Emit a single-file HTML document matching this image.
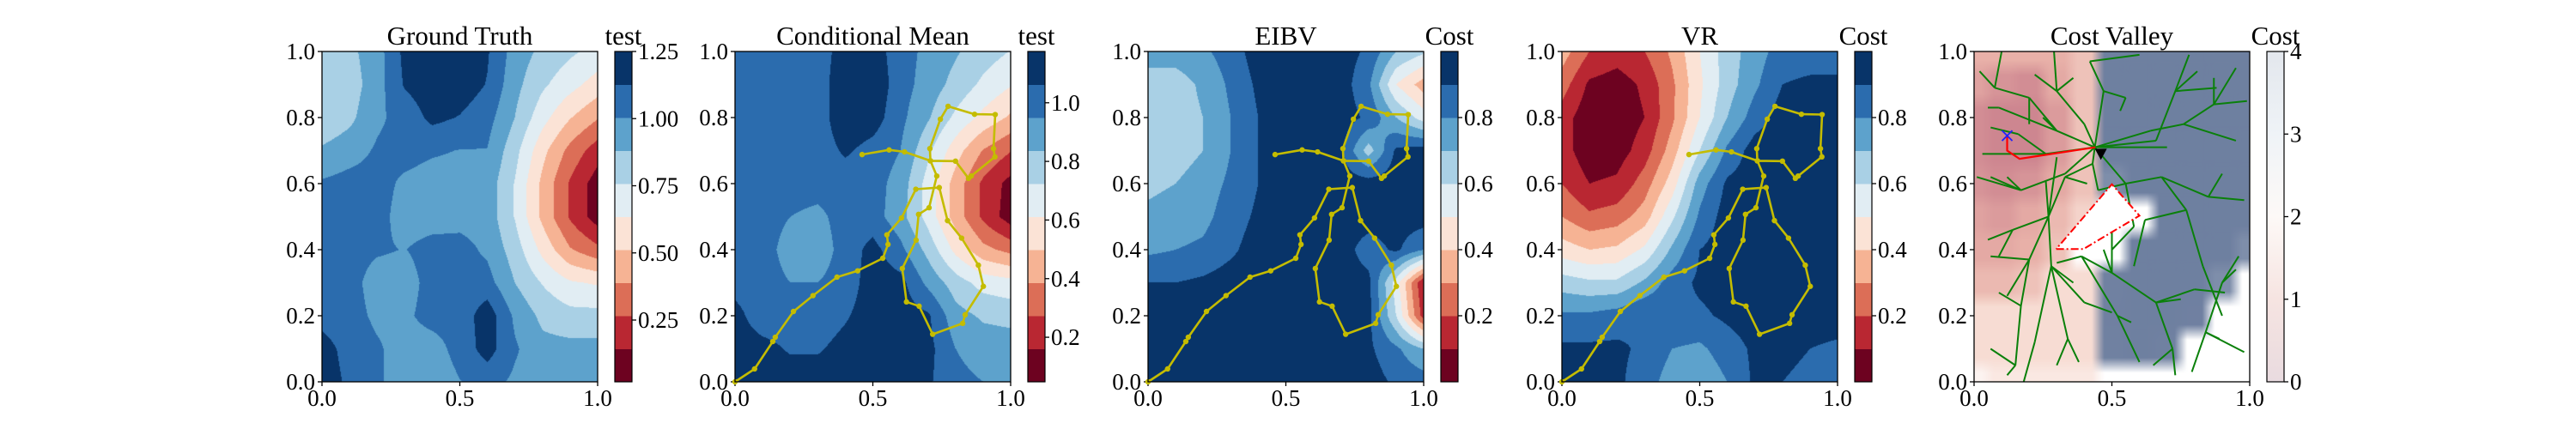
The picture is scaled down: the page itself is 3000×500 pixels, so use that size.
<!DOCTYPE html>
<html><head><meta charset="utf-8"><title>Fields</title>
<style>
html,body{margin:0;padding:0;background:#fff;width:3000px;height:500px;overflow:hidden}
#root{position:relative;width:3000px;height:500px}
canvas{position:absolute}
svg{position:absolute;left:0;top:0}
text{font-family:"Liberation Serif",serif;fill:#000}
</style></head>
<body>
<div id="root">
<canvas id="c0" width="321" height="385" style="left:375px;top:60px"></canvas>
<canvas id="c1" width="321" height="385" style="left:856px;top:60px"></canvas>
<canvas id="c2" width="321" height="385" style="left:1337px;top:60px"></canvas>
<canvas id="c3" width="321" height="385" style="left:1819px;top:60px"></canvas>
<canvas id="c4" width="321" height="385" style="left:2299px;top:60px"></canvas>
<svg id="ov" width="3000" height="500"></svg>
</div>
<script>
// ---- data ----
const gtField=[
[.80,.85,.95,1.16,1.20,1.20,1.14,.95,.85,.78,.72],
[.78,.82,.95,1.14,1.20,1.20,1.12,.92,.78,.68,.58],
[.78,.85,.98,1.05,1.16,1.12,1.05,.88,.68,.52,.40],
[.90,.95,1.02,1.05,1.02,1.00,1.00,.80,.55,.35,.20],
[1.02,1.05,1.05,.98,.95,.95,.95,.75,.48,.25,.08],
[1.05,1.05,1.05,.95,.95,.96,.95,.75,.48,.25,.08],
[1.05,1.05,1.02,1.00,1.05,1.05,.98,.82,.60,.40,.30],
[1.05,1.05,.95,.95,1.05,1.05,1.05,.88,.75,.65,.62],
[1.08,1.05,.98,.98,1.05,1.05,1.20,.98,.85,.80,.80],
[1.18,1.08,1.02,.95,.95,1.05,1.18,1.02,.92,.92,.92],
[1.20,1.10,1.02,.95,.92,1.0,1.05,.98,.95,.95,.95]];
const cmField=[
[1.0,1.0,1.0,1.0,1.12,1.12,1.0,.92,.85,.78,.72],
[1.0,1.0,1.0,1.0,1.15,1.15,1.0,.90,.80,.70,.62],
[1.0,1.0,1.0,1.0,1.15,1.12,.98,.85,.70,.58,.48],
[1.0,1.0,1.0,1.0,1.08,1.02,.95,.75,.55,.38,.28],
[1.0,1.0,1.0,1.0,1.0,1.0,.90,.68,.45,.25,.12],
[1.0,1.0,.95,.92,1.0,1.0,.88,.68,.45,.25,.10],
[1.0,1.0,.90,.88,1.0,1.10,.98,.80,.58,.42,.35],
[1.02,1.0,.95,.95,1.0,1.12,1.10,.92,.78,.68,.65],
[1.10,1.0,1.0,1.0,1.05,1.12,1.12,1.08,.88,.82,.80],
[1.12,1.10,1.05,1.05,1.10,1.12,1.12,1.10,.95,.90,.90],
[1.12,1.12,1.12,1.12,1.12,1.12,1.12,1.08,.98,.95,.95]];
const eibvField=[
[.75,.75,.78,.85,.95,.95,.95,.95,.88,.70,.62],
[.65,.65,.72,.82,.92,.95,.95,.95,.82,.50,.35],
[.65,.65,.70,.80,.90,.95,.95,.95,.88,.70,.55],
[.65,.65,.70,.80,.90,.95,.95,.92,.65,.92,.95],
[.68,.70,.75,.82,.90,.95,.95,.95,.95,.95,.95],
[.72,.74,.77,.85,.92,.95,.95,.95,.95,.95,.95],
[.78,.80,.82,.88,.95,.95,.95,.95,.85,.92,.80],
[.90,.90,.92,.95,.95,.95,.95,.95,.93,.55,.10],
[.95,.95,.95,.95,.95,.95,.95,.95,.93,.60,.15],
[.95,.95,.95,.95,.95,.95,.95,.95,.92,.82,.70],
[.95,.95,.95,.95,.95,.95,.95,.95,.95,.88,.85]];
const vrField=[
[.35,.20,.15,.20,.32,.50,.65,.75,.85,.85,.85],
[.25,.08,.05,.12,.28,.48,.65,.78,.90,.92,.92],
[.15,.03,.03,.10,.28,.50,.70,.85,.95,.95,.95],
[.15,.03,.05,.15,.35,.60,.82,.95,.95,.95,.95],
[.20,.10,.12,.25,.45,.75,.92,.95,.95,.95,.95],
[.30,.22,.25,.35,.58,.82,.95,.95,.95,.95,.95],
[.45,.40,.42,.52,.72,.90,.95,.95,.95,.95,.95],
[.65,.62,.62,.72,.85,.92,.95,.95,.95,.95,.95],
[.82,.82,.85,.90,.88,.88,.92,.95,.95,.95,.95],
[.92,.92,.92,.88,.80,.78,.85,.92,.95,.90,.88],
[.95,.95,.92,.85,.75,.72,.80,.92,.90,.85,.85]];
const cvField=[
[1.2,1.2,1.2,1.2,1.4,3.8,3.8,3.8,3.8,3.8,3.8],
[1.0,.8,.7,1.1,1.4,3.8,3.8,3.8,3.8,3.8,3.8],
[.7,.6,.6,.9,1.4,3.8,3.8,3.8,3.8,3.8,3.8],
[.7,.6,.6,.9,1.4,3.8,3.8,3.8,3.8,3.8,3.8],
[.8,.7,.8,1.1,1.4,3.0,3.8,3.8,3.8,3.8,3.8],
[1.0,.9,1.1,1.3,1.6,2.0,2.2,3.8,3.8,3.8,3.8],
[1.1,1.1,1.2,1.4,2.0,2.2,3.8,3.8,3.8,3.8,3.0],
[1.3,1.3,1.4,1.7,1.7,3.2,3.8,3.8,3.8,3.0,2.0],
[1.7,1.7,1.7,1.7,1.7,3.4,3.8,3.8,3.4,2.0,2.0],
[1.7,1.7,1.7,1.7,1.7,3.2,3.8,3.2,2.0,2.0,2.0],
[1.9,1.8,1.8,1.8,1.8,2.0,2.0,2.0,2.0,2.0,2.0]];
const panelTitles=["Ground Truth","Conditional Mean","EIBV","VR","Cost Valley"];
const cbLabels=["test","test","Cost","Cost","Cost"];
const cbRanges=[[0.02,1.25],[0.048,1.175],[0,1],[0,1],[0,4]];
const cbTicks=[[0.25,0.5,0.75,1.0,1.25],[0.2,0.4,0.6,0.8,1.0],[0.2,0.4,0.6,0.8],[0.2,0.4,0.6,0.8],[0,1,2,3,4]];
const cbTickLabels=[["0.25","0.50","0.75","1.00","1.25"],["0.2","0.4","0.6","0.8","1.0"],["0.2","0.4","0.6","0.8"],["0.2","0.4","0.6","0.8"],["0","1","2","3","4"]];
const xTicks=[0,0.5,1];
const xTickLabels=["0.0","0.5","1.0"];
const yTicks=[0,0.2,0.4,0.6,0.8,1];
const yTickLabels=["0.0","0.2","0.4","0.6","0.8","1.0"];
const pathX=[0,.071,.137,.146,.212,.283,.370,.445,.536,.555,.551,.604,.656,.741,.771,.822,.883,.901,.835,.826,.717,.668,.622,.607,.657,.666,.704,.732,.709,.707,.745,.773,.869,.944,.938,.943,.857,.847,.800,.709,.615,.559,.461];
const pathY=[0,.039,.122,.135,.213,.261,.317,.336,.374,.416,.445,.496,.583,.588,.488,.435,.353,.289,.203,.177,.144,.229,.242,.343,.429,.507,.527,.623,.669,.706,.795,.834,.810,.809,.706,.681,.623,.616,.668,.669,.696,.702,.688];
const treeEdges=[
[.438,.71,.40,.78],[.40,.78,.30,.88],[.30,.88,.29,1.0],[.30,.88,.22,.93],[.30,.88,.36,.92],
[.438,.71,.30,.76],[.30,.76,.20,.86],[.20,.86,.075,.89],[.075,.89,.10,1.0],[.075,.89,.02,.94],[.20,.86,.20,.78],
[.30,.76,.09,.83],[.09,.83,.05,.83],[.30,.76,.25,.80],
[.438,.71,.26,.69],[.26,.69,.03,.69],[.26,.69,.16,.75],[.16,.75,.06,.77],
[.438,.71,.33,.63],[.33,.63,.17,.58],[.17,.58,.01,.62],[.17,.58,.12,.62],[.17,.58,.06,.62],
[.438,.71,.43,.66],[.43,.66,.33,.62],[.33,.62,.27,.50],[.27,.50,.20,.37],[.20,.37,.06,.38],[.20,.37,.12,.26],[.27,.50,.14,.46],[.14,.46,.05,.43],[.14,.46,.09,.38],
[.27,.50,.30,.68],[.27,.50,.26,.61],[.33,.62,.41,.60],
[.43,.66,.45,.58],[.45,.58,.55,.60],
[.20,.37,.17,.23],[.17,.23,.15,.05],[.15,.05,.12,.02],[.17,.23,.09,.27],[.15,.05,.06,.10],
[.28,.35,.34,.13],[.34,.13,.30,.05],[.34,.13,.38,.06],[.28,.35,.22,.12],[.22,.12,.18,.0],[.28,.35,.40,.24],[.40,.24,.50,.21],[.28,.35,.36,.30],[.27,.50,.28,.35],
[.39,.38,.52,.20],[.52,.20,.60,.06],[.52,.20,.57,.18],[.39,.38,.50,.33],[.39,.38,.30,.36],
[.50,.33,.66,.24],[.66,.24,.72,.10],[.72,.10,.73,.02],[.72,.10,.65,.05],[.66,.24,.80,.28],[.80,.28,.91,.27],[.66,.24,.75,.25],
[.84,.15,.90,.30],[.90,.30,.95,.34],[.84,.15,.79,.03],[.84,.15,.98,.09],[.84,.15,.89,.13],[.90,.30,.96,.38],
[.50,.33,.50,.47],[.50,.33,.47,.40],
[.438,.71,.70,.71],[.438,.71,.66,.73],[.66,.73,.73,.88],[.73,.88,.78,.99],[.73,.88,.88,.89],[.73,.88,.81,.94],
[.438,.71,.47,.88],[.47,.88,.42,.97],[.42,.97,.60,.99],[.47,.88,.55,.86],[.55,.86,.53,.82],
[.438,.71,.55,.60],[.55,.60,.68,.62],[.68,.62,.77,.52],[.77,.52,.83,.35],[.83,.35,.90,.20],
[.68,.62,.85,.56],[.85,.56,.98,.55],[.85,.56,.90,.63],[.77,.52,.62,.49],[.62,.49,.58,.35],
[.438,.71,.64,.76],[.64,.76,.76,.78],[.76,.78,.87,.84],[.76,.78,.95,.73],[.87,.84,.99,.85],[.87,.84,.95,.95],[.87,.84,.87,.92],
[.55,.60,.58,.47],[.58,.47,.50,.40]];
const redPathX=[.12,.12,.165,.44];
const redPathY=[.745,.70,.675,.71];
const obstacleX=[.298,.397,.60,.50,.298];
const obstacleY=[.402,.402,.503,.598,.402];
const startPt=[.12,.745];
const goalPt=[.46,.69];

// ---- layout ----
const panelX=[375,856,1337,1819,2299];
const TOP=60,W=321,H=385,CBOFF=341,CBW=20;
const rdbu=['#6d0220','#b92732','#dc6e57','#f6b394','#fbe3d6','#e1edf3','#a9d0e5','#5da2cc','#2b6cae','#083469'];
const NS='http://www.w3.org/2000/svg';
const ov=document.getElementById('ov');
function mk(tag,attrs,parent){const e=document.createElementNS(NS,tag);for(const k in attrs)e.setAttribute(k,attrs[k]);(parent||ov).appendChild(e);return e;}
function sx(p,v){return panelX[p]+v*W;}
function sy(v){return TOP+(1-v)*H;}
function cell(x,y){
  const gx=Math.min(Math.max(x*10,0),10),gy=Math.min(Math.max((1-y)*10,0),10);
  const i=Math.min(Math.floor(gx),9),j=Math.min(Math.floor(gy),9);
  return [i,j,gx-i,gy-j];
}
function bil(f,x,y){
  const [i,j,tx,ty]=cell(x,y);
  return f[j][i]*(1-tx)*(1-ty)+f[j][i+1]*tx*(1-ty)+f[j+1][i]*(1-tx)*ty+f[j+1][i+1]*tx*ty;
}
function hex(c){return [parseInt(c.substr(1,2),16),parseInt(c.substr(3,2),16),parseInt(c.substr(5,2),16)];}
const cvStops=[[0.5,'#c97f8c'],[1.2,'#e8b0a8'],[1.7,'#f7dcd3'],[2.0,'#ffffff'],[2.35,'#ffffff'],[2.8,'#8c9ab3'],[3.2,'#7081a1'],[4,'#6e7fa0']];
function cvColor(v){
  if(v<=cvStops[0][0])return hex(cvStops[0][1]);
  for(let k=1;k<cvStops.length;k++){if(v<=cvStops[k][0]){const a=hex(cvStops[k-1][1]),b=hex(cvStops[k][1]);const t=(v-cvStops[k-1][0])/(cvStops[k][0]-cvStops[k-1][0]);return [0,1,2].map(q=>a[q]+(b[q]-a[q])*t);}}
  return hex(cvStops[cvStops.length-1][1]);
}
function cvPixel(f,x,y){
  const [i,j,tx,ty]=cell(x,y);
  const s=t=>Math.min(1,Math.max(0,(t-0.5)*2.2+0.5));
  const a=s(tx),b=s(ty);
  const c00=cvColor(f[j][i]),c10=cvColor(f[j][i+1]),c01=cvColor(f[j+1][i]),c11=cvColor(f[j+1][i+1]);
  return [0,1,2].map(q=>c00[q]*(1-a)*(1-b)+c10[q]*a*(1-b)+c01[q]*(1-a)*b+c11[q]*a*b);
}
const fields=[gtField,cmField,eibvField,vrField,cvField];
const rgbPal=rdbu.map(hex);
fields.forEach((f,p)=>{
  const cv=document.getElementById('c'+p),ctx=cv.getContext('2d');
  const img=ctx.createImageData(W,H);const [mn,mx]=cbRanges[p];
  for(let j=0;j<H;j++)for(let i=0;i<W;i++){
    const x=(i+0.5)/W,y=1-(j+0.5)/H;let c;
    if(p===4)c=cvPixel(f,x,y);else{const v=bil(f,x,y);let b=Math.floor((v-mn)/(mx-mn)*10);b=Math.max(0,Math.min(9,b));c=rgbPal[b];}
    const o=(j*W+i)*4;img.data[o]=c[0];img.data[o+1]=c[1];img.data[o+2]=c[2];img.data[o+3]=255;
  }
  ctx.putImageData(img,0,0);
});

const defs=mk('defs',{});
const lg=mk('linearGradient',{id:'cvgrad',x1:0,y1:1,x2:0,y2:0},defs);
[['0','#e9dbe0'],['0.25','#f6e4e1'],['0.5','#fdf9f7'],['0.75','#eff3f7'],['1','#e3e7ed']].forEach(s=>mk('stop',{offset:s[0],'stop-color':s[1]},lg));

for(let p=0;p<5;p++){
  const g=mk('g',{});
  
  
  const x0=panelX[p];
  const t=mk('text',{x:x0+W/2,y:52,'text-anchor':'middle','font-size':31},g);t.textContent=panelTitles[p];
  
  
  xTicks.forEach((v,k)=>{
    const l=mk('line',{x1:sx(p,v),x2:sx(p,v),y1:TOP+H,y2:TOP+H+5,stroke:'#000','stroke-width':1.3},g);
    
    
    const tt=mk('text',{x:sx(p,v),y:473,'text-anchor':'middle','font-size':27},g);tt.textContent=xTickLabels[k];
    
    
  });
  yTicks.forEach((v,k)=>{
    const l=mk('line',{x1:x0-5,x2:x0,y1:sy(v),y2:sy(v),stroke:'#000','stroke-width':1.3},g);
    
    
    const tt=mk('text',{x:x0-8,y:sy(v)+9,'text-anchor':'end','font-size':27},g);tt.textContent=yTickLabels[k];
    
    
  });
  if(p>=1&&p<=3){
    let d='';pathX.forEach((v,k)=>{d+=(k?'L':'M')+sx(p,v).toFixed(1)+','+sy(pathY[k]).toFixed(1);});
    const pl=mk('path',{d:d,fill:'none',stroke:'#c4bc00','stroke-width':2.6,'stroke-linejoin':'round'},g);
    
    
    pathX.forEach((v,k)=>{
      const c=mk('circle',{cx:sx(p,v),cy:sy(pathY[k]),r:3.2,fill:'#c4bc00'},g);
      
      
    });
  }
  if(p===4){
    treeEdges.forEach(e=>{
      const l=mk('line',{x1:sx(p,e[0]),y1:sy(e[1]),x2:sx(p,e[2]),y2:sy(e[3]),stroke:'#0a800a','stroke-width':2},g);
      
      
    });
    let d='';redPathX.forEach((v,k)=>{d+=(k?'L':'M')+sx(p,v)+','+sy(redPathY[k]);});
    const rp=mk('path',{d:d,fill:'none',stroke:'#ff0000','stroke-width':2.2},g);
    
    
    let d2='';obstacleX.forEach((v,k)=>{d2+=(k?'L':'M')+sx(p,v)+','+sy(obstacleY[k]);});
    const ob=mk('path',{d:d2,fill:'#ffffff',stroke:'#ff0000','stroke-width':2,'stroke-dasharray':'9,3,2,3'},g);
    
    
    const X=sx(p,startPt[0]),Y=sy(startPt[1]);
    const sm=mk('path',{d:`M${X-6},${Y-6}L${X+6},${Y+6}M${X-6},${Y+6}L${X+6},${Y-6}`,stroke:'#2020ff','stroke-width':1.8},g);
    
    
    const GX=sx(p,goalPt[0]),GY=sy(goalPt[1]);
    const gm=mk('path',{d:`M${GX-7},${GY-6}L${GX+7},${GY-6}L${GX},${GY+7}Z`,fill:'#000'},g);
    
    
  }
  const fr=mk('rect',{x:x0,y:TOP,width:W,height:H,fill:'none',stroke:'#000','stroke-width':1.3},g);
  
  
  const cbx=x0+CBOFF;const [mn,mx]=cbRanges[p];
  const cbg=mk('g',{},g);
  
  
  if(p<4){
    for(let b=0;b<10;b++){
      const r=mk('rect',{x:cbx,y:TOP+H-(b+1)*H/10,width:CBW,height:H/10+0.5,fill:rdbu[b]},cbg);
      
      
    }
  }else{
    const r=mk('rect',{x:cbx,y:TOP,width:CBW,height:H,fill:'url(#cvgrad)'},cbg);
    
    
  }
  const cf=mk('rect',{x:cbx,y:TOP,width:CBW,height:H,fill:'none',stroke:'#000','stroke-width':1.2},cbg);
  
  
  cbTicks[p].forEach((v,k)=>{
    const yy=TOP+H*(1-(v-mn)/(mx-mn));
    const l=mk('line',{x1:cbx+CBW,x2:cbx+CBW+5,y1:yy,y2:yy,stroke:'#000','stroke-width':1.3},cbg);
    
    
    const tt=mk('text',{x:cbx+CBW+7,y:yy+9,'font-size':27},cbg);tt.textContent=cbTickLabels[p][k];
    
    
  });
  const cl=mk('text',{x:cbx+CBW/2,y:52,'text-anchor':'middle','font-size':31},cbg);cl.textContent=cbLabels[p];
  
  
}
</script>
</body></html>
